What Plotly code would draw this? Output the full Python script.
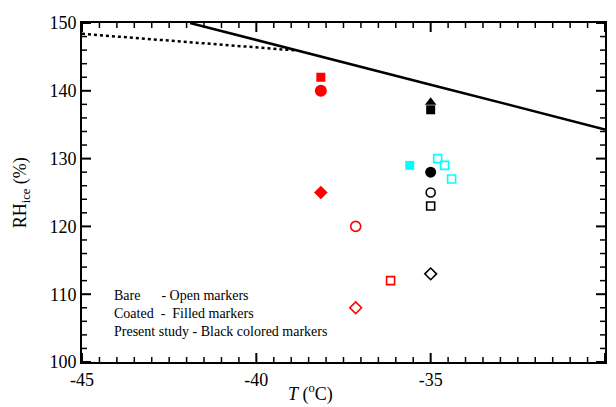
import plotly.graph_objects as go

# Lines
solid_T = [-41.9, -38.9, -35.0, -30.0]
solid_RH = [150.0, 146.0, 140.9, 134.3]
dash_T = [-45.0, -38.86]
dash_RH = [148.4, 145.95]

# Red series (literature)
red_filled_sq_T, red_filled_sq_RH = [-38.15], [142.0]
red_filled_ci_T, red_filled_ci_RH = [-38.15], [140.0]
red_filled_di_T, red_filled_di_RH = [-38.15], [125.0]
red_open_ci_T, red_open_ci_RH = [-37.15], [120.0]
red_open_sq_T, red_open_sq_RH = [-36.15], [112.0]
red_open_di_T, red_open_di_RH = [-37.15], [108.0]

# Cyan series
cyan_filled_sq_T, cyan_filled_sq_RH = [-35.6], [129.0]
cyan_open_sq_T, cyan_open_sq_RH = [-34.8, -34.6, -34.4], [130.0, 129.0, 127.0]

# Black series (present study)
blk_filled_tri_T, blk_filled_tri_RH = [-35.0], [138.3]
blk_filled_sq_T, blk_filled_sq_RH = [-35.0], [137.2]
blk_filled_ci_T, blk_filled_ci_RH = [-35.0], [128.0]
blk_open_ci_T, blk_open_ci_RH = [-35.0], [125.0]
blk_open_sq_T, blk_open_sq_RH = [-35.0], [123.0]
blk_open_di_T, blk_open_di_RH = [-35.0], [113.0]

x_tickvals = [-45, -40, -35, -30]
x_ticktext = ["-45", "-40", "-35", "-30"]
y_tickvals = [100, 110, 120, 130, 140, 150]
y_ticktext = ["100", "110", "120", "130", "140", "150"]
x_minor_step = 0.5
y_minor_step = 2

legend_lines = ["Bare &nbsp;&nbsp;&nbsp;&nbsp; - Open markers",
                "Coated &nbsp;- &nbsp;Filled markers",
                "Present study - Black colored markers"]

FONT = "Liberation Serif"
fig = go.Figure()

fig.add_trace(go.Scatter(x=solid_T, y=solid_RH, mode="lines",
                         line=dict(color="black", width=2.5)))
fig.add_trace(go.Scatter(x=dash_T, y=dash_RH, mode="lines",
                         line=dict(color="black", width=2.5, dash="dot")))

def pts(x, y, sym, color, size=10, open_=False):
    if open_:
        marker = dict(symbol=sym + "-open", color=color, size=size,
                      line=dict(color=color, width=1.6))
    else:
        marker = dict(symbol=sym, color=color, size=size,
                      line=dict(color=color, width=0))
    fig.add_trace(go.Scatter(x=x, y=y, mode="markers", marker=marker))

RED = "#ff0000"
CYAN = "#00ffff"
BLK = "#000000"
pts(red_filled_sq_T, red_filled_sq_RH, "square", RED, 9)
pts(red_filled_ci_T, red_filled_ci_RH, "circle", RED, 12)
pts(red_filled_di_T, red_filled_di_RH, "diamond", RED, 10.5)
pts(red_open_ci_T, red_open_ci_RH, "circle", RED, 10, True)
pts(red_open_sq_T, red_open_sq_RH, "square", RED, 8, True)
pts(red_open_di_T, red_open_di_RH, "diamond", RED, 9, True)
pts(cyan_filled_sq_T, cyan_filled_sq_RH, "square", CYAN, 9)
pts(cyan_open_sq_T, cyan_open_sq_RH, "square", CYAN, 8, True)
pts(blk_filled_tri_T, blk_filled_tri_RH, "triangle-up", BLK, 10)
pts(blk_filled_sq_T, blk_filled_sq_RH, "square", BLK, 9)
pts(blk_filled_ci_T, blk_filled_ci_RH, "circle", BLK, 11)
pts(blk_open_ci_T, blk_open_ci_RH, "circle", BLK, 9, True)
pts(blk_open_sq_T, blk_open_sq_RH, "square", BLK, 8, True)
pts(blk_open_di_T, blk_open_di_RH, "diamond", BLK, 9, True)

fig.add_annotation(text="<br>".join(legend_lines), x=-44.15, y=111.2, xref="x", yref="y",
                   xanchor="left", yanchor="top", align="left", showarrow=False,
                   font=dict(family=FONT, size=14, color="black"))

fig.add_annotation(text="<i>T</i> (<sup>o</sup>C)", x=-38.45, y=-0.05, xref="x", yref="paper",
                   xanchor="center", yanchor="top", showarrow=False,
                   font=dict(family=FONT, size=18, color="black"))
fig.add_annotation(text="RH<sub>ice</sub> (%)", x=-0.115, y=0.5, xref="paper", yref="paper",
                   xanchor="center", yanchor="middle", textangle=-90, showarrow=False,
                   font=dict(family=FONT, size=18, color="black"))

# tick marks on all four sides (drawn as axis-anchored pixel-sized shapes)
def x_ticks(vals, length, width):
    for v in vals:
        for anchor, sign in ((0, 1), (1, -1)):
            fig.add_shape(type="line", xref="x", yref="paper", x0=v, x1=v,
                          ysizemode="pixel", yanchor=anchor, y0=0, y1=sign * length,
                          line=dict(color="black", width=width))

def y_ticks(vals, length, width):
    for v in vals:
        for anchor, sign in ((0, 1), (1, -1)):
            fig.add_shape(type="line", xref="paper", yref="y", y0=v, y1=v,
                          xsizemode="pixel", xanchor=anchor, x0=0, x1=sign * length,
                          line=dict(color="black", width=width))

x_lo, x_hi = x_tickvals[0], x_tickvals[-1]
y_lo, y_hi = y_tickvals[0], y_tickvals[-1]
x_minor = [x_lo + i * x_minor_step for i in range(int(round((x_hi - x_lo) / x_minor_step)) + 1)]
y_minor = [y_lo + i * y_minor_step for i in range(int(round((y_hi - y_lo) / y_minor_step)) + 1)]
x_ticks([v for v in x_minor if v not in x_tickvals], 5, 1.5)
x_ticks(x_tickvals, 9, 2)
y_ticks([v for v in y_minor if v not in y_tickvals], 5, 1.5)
y_ticks(y_tickvals, 9, 2)

axis = dict(showline=True, linewidth=2, linecolor="black", mirror=True,
            showgrid=False, zeroline=False, ticks="",
            tickfont=dict(family=FONT, size=18, color="black"))

fig.update_layout(
    width=616, height=407, showlegend=False,
    margin=dict(l=82, r=9, t=23, b=45),
    plot_bgcolor="white", paper_bgcolor="white",
    xaxis=dict(range=[-45, -30], tickmode="array", tickvals=x_tickvals, ticktext=x_ticktext, **axis),
    yaxis=dict(range=[100, 150], tickmode="array", tickvals=y_tickvals, ticktext=y_ticktext, **axis),
)

fig.write_html("out.html")
